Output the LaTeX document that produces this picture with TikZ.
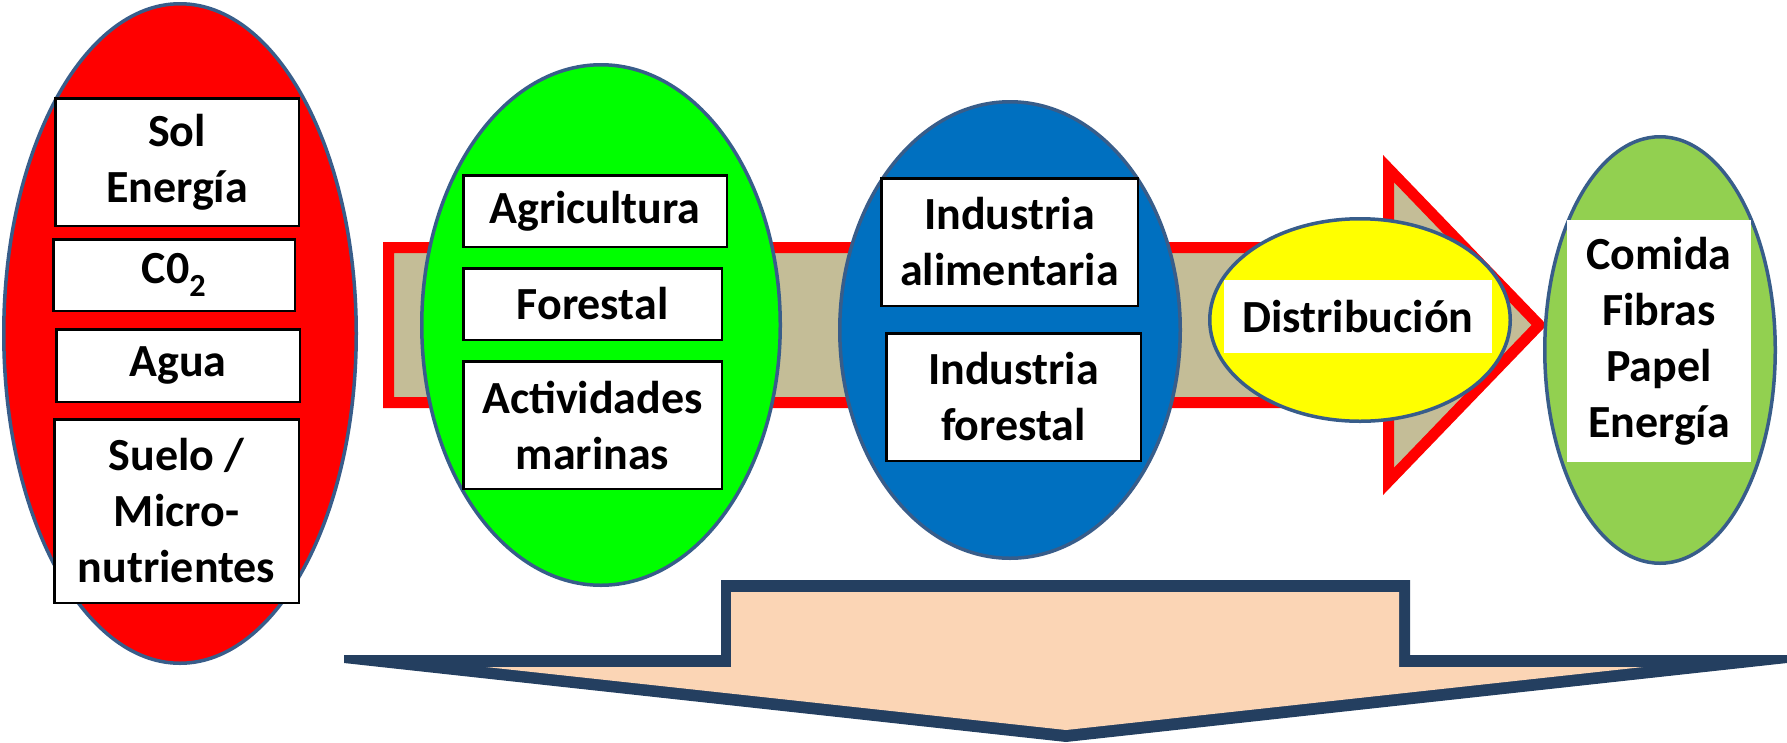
\documentclass[tikz,border=0pt]{standalone}
\usepackage{fontspec}
\setmainfont{Carlito}
\usetikzlibrary{shapes.geometric}
\definecolor{ellborder}{HTML}{385D8A}
\definecolor{cred}{HTML}{FF0000}
\definecolor{cgreen}{HTML}{00FF00}
\definecolor{cblue}{HTML}{0070C0}
\definecolor{cyellow}{HTML}{FFFF00}
\definecolor{clgreen}{HTML}{92D050}
\definecolor{ctan}{HTML}{C4BD97}
\definecolor{cpeach}{HTML}{FBD5B5}
\definecolor{cnavy}{HTML}{243F60}
\begin{document}
\begin{tikzpicture}[x=1pt,y=-1pt,
  txt/.style={font=\fontsize{46}{56}\selectfont\bfseries, align=center},
  blob/.style={ellipse, draw=ellborder, line width=3.5pt, inner sep=0pt},
  tbox/.style={txt, draw=black, line width=2.5pt, fill=white, inner sep=0pt},
  plainbox/.style={txt, fill=white, inner sep=0pt}]
\useasboundingbox (0,0) rectangle (1787,742);

% big process arrow
\draw[fill=ctan, draw=cred, line width=11pt, line join=miter]
  (388.5,247.5) -- (1388.5,247.5) -- (1388.5,168.6) -- (1539.2,325)
  -- (1388.5,481.4) -- (1388.5,402.5) -- (388.5,402.5) -- cycle;

% down arrow
\fill[cnavy] (721,580) -- (1410,580) -- (1410,655) -- (1787,655) -- (1787,663)
  -- (1066,742) -- (344,663) -- (344,655) -- (721,655) -- cycle;
\fill[cpeach] (731,592) -- (1399,592) -- (1399,667) -- (1643,667)
  -- (1066,730) -- (486,667) -- (731,667) -- cycle;

% ellipses
\node[blob, fill=cred, minimum width=352.5pt, minimum height=659.5pt] (eres) at (180,333.5) {};
\node[blob, fill=cgreen, minimum width=358.5pt, minimum height=520.5pt] (eprim) at (601,325) {};
\node[blob, fill=cblue, minimum width=340.5pt, minimum height=456.5pt] (eind) at (1010,330) {};
\node[blob, fill=cyellow, minimum width=300.5pt, minimum height=202.5pt] (edist) at (1360,320) {};
\node[blob, fill=clgreen, minimum width=230.5pt, minimum height=426.5pt] (eprod) at (1660,350) {};

% boxes in red ellipse
\node[tbox, minimum width=243.5pt, minimum height=127.5pt] (sol) at (177,162) {Sol\\Energía};
\node[tbox, minimum width=241.5pt, minimum height=71.5pt] (co2) at (174,275) {C0\textsubscript{2}};
\node[tbox, minimum width=243.5pt, minimum height=72.5pt] (agua) at (178,365.5) {Agua};
\node[tbox, minimum width=244.5pt, minimum height=183.5pt] (suelo) at (176.5,511) {Suelo /\\Micro-\\nutrientes};

% boxes in green ellipse
\node[tbox, minimum width=263.5pt, minimum height=71.5pt] (agri) at (595,211) {Agricultura};
\node[tbox, minimum width=258.5pt, minimum height=71.5pt] (fore) at (592.5,304) {Forestal};
\node[tbox, minimum width=258.5pt, minimum height=127.5pt] (mar) at (592.5,425) {Actividades\\marinas};

% boxes in blue ellipse
\node[tbox, minimum width=256.5pt, minimum height=127.5pt] (ialim) at (1009.5,242) {Industria\\alimentaria};
\node[tbox, minimum width=254.5pt, minimum height=127.5pt] (ifor) at (1013.5,397) {Industria\\forestal};

% distribution and products
\node[plainbox, minimum width=268pt, minimum height=73pt] (dist) at (1358,316.5) {Distribución};
\node[plainbox, minimum width=184pt, minimum height=242pt] (prod) at (1659,341) {Comida\\Fibras\\Papel\\Energía};
\end{tikzpicture}
\end{document}
